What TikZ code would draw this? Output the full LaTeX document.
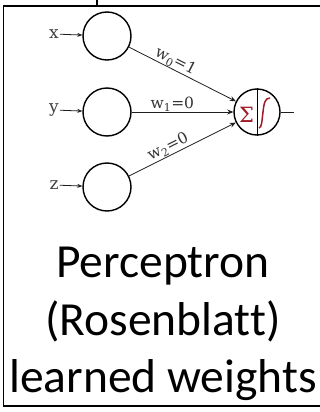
\documentclass[tikz,border=0pt]{standalone}
\usepackage{fontspec}
\usepackage{tikz}
\usetikzlibrary{arrows.meta,positioning,calc}
\newfontfamily\lblfont{DejaVu Serif}
\newfontfamily\capfont[Ligatures=NoCommon]{Carlito}
\definecolor{sigred}{RGB}{158,28,38}
\definecolor{edgegray}{RGB}{30,30,30}
\tikzset{
  inp/.style={circle,draw=black,line width=1.4pt,minimum size=48pt,inner sep=0pt},
  outn/.style={circle,draw=black,line width=1.4pt,minimum size=46pt,inner sep=0pt},
  vlbl/.style={font=\lblfont\fontsize{17}{19}\selectfont,text=black!75,inner sep=1pt},
  wlbl/.style={font=\lblfont\fontsize{15.5}{17}\selectfont,text=black!80,inner sep=0.5pt,above,sloped,pos=0.4},
  fl/.style={-{Stealth[length=6pt,width=5pt]},draw=edgegray,line width=0.8pt},
  captext/.style={font=\capfont\fontsize{47.5}{57.5}\selectfont,align=center,inner sep=0pt,
    execute at begin node={\baselineskip=57.5pt}},
}
\begin{document}
\begin{tikzpicture}[x=1pt,y=-1pt]
  \useasboundingbox (0,0) rectangle (320,412);
  \draw[line width=1.6pt] (3.5,6) rectangle (325,406);
  \coordinate (top) at (97,0);
  \coordinate (join) at (97,6);
  \draw[line width=2.6pt] (top) -- (join);
  \node[inp] (nx) at (107,36) {};
  \node[inp] (ny) at (107,112) {};
  \node[inp] (nz) at (107,187) {};
  \node[outn] (out) at (257,112) {};
  \node[vlbl] (lx) at (54,34) {x};
  \node[vlbl] (ly) at (54,110) {y};
  \node[vlbl] (lz) at (54,185) {z};
  \draw[fl,-{Stealth[length=5pt,width=4pt]}] (lx) -- (nx);
  \draw[fl,-{Stealth[length=5pt,width=4pt]}] (ly) -- (ny);
  \draw[fl,-{Stealth[length=5pt,width=4pt]}] (lz) -- (nz);
  \draw[fl] (nx) -- node[wlbl]{w\textsubscript{0}=1} (out);
  \draw[fl] (ny) -- node[wlbl]{w\textsubscript{1}=0} (out);
  \draw[fl] (nz) -- node[wlbl]{w\textsubscript{2}=0} (out);
  \draw[line width=0.8pt] (out.north) -- (out.south);
  \node[font=\lblfont\fontsize{21}{23}\selectfont,text=sigred,inner sep=0pt] (sig) at (246.5,115) {Σ};
  \draw[sigred,line width=1.5pt] (259,128) .. controls (262,128) and (262,119) .. (263,112)
    .. controls (264,103) and (265,98) .. (270,98);
  \coordinate (end) at (294,112);
  \draw[edgegray,line width=0.8pt] (out.east) -- (end);
  \node[captext] (title) at (163,324) {Perceptron\\(Rosenblatt)\\learned weights};
\end{tikzpicture}
\end{document}
